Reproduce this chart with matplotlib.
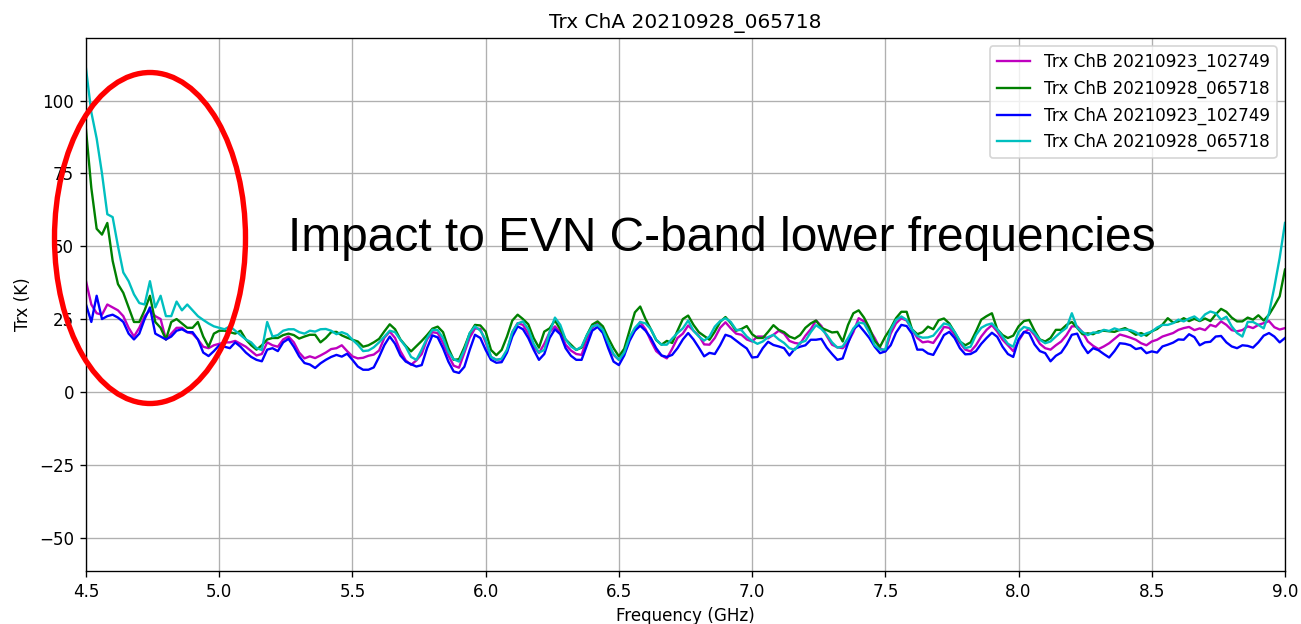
import numpy as np
import matplotlib
matplotlib.use('Agg')
import matplotlib.pyplot as plt
from matplotlib.patches import Ellipse

# frequency grid (GHz), 0.02 GHz steps
freq = np.linspace(4.5, 9.0, 226)

trx_chb_0923 = [
    38, 30, 27, 26.5, 30, 29, 28, 26, 22, 19, 22, 26, 28, 26, 25, 18, 20, 22, 22, 20.5,
    20, 18, 15.5, 15, 16, 16.5, 17, 17, 17.5, 16.5, 15.5, 14, 12.5, 13, 17, 16, 15.5, 18,
    19.0, 17.0, 13.5, 11.5, 12.2, 11.6, 12.5, 13.5, 14.7, 15.0, 16.0, 14.0, 12.2, 11.5, 11.7, 12.4,
    12.8, 14.2, 18.6, 20.7, 18.5, 14.0, 10.8, 9.3, 10.8, 13.0, 18.0, 20.5, 20.2, 16.8, 12.5, 9.0,
    8.3, 13.5, 18.6, 21.8, 21.6, 17,
    12, 11.0, 11.2, 14.0, 20.5, 23.6, 23.0, 20.0, 15.6, 13.3, 16.5, 20.5, 22.5, 20.5, 16.2, 14.2,
    13.0, 12.7, 18.0, 22.0, 23.5, 21.2, 16.0, 12.7, 11.0, 13.6, 18.8, 21.0, 24.0, 21.5, 17.5, 14.0,
    12.5, 11.5, 14.8, 18.5, 20,
    22.8, 21.0, 19.3, 16.3, 16.2, 18.5, 22.0, 23.9, 21.8, 20.0, 19.6, 18.0, 17.3, 19.0, 19.0, 18.4,
    19.6, 21.0, 20.0, 17.5, 16.8, 16.5, 19.3, 21.5, 24.5, 22.6, 19.2, 16.2, 15.3, 15.0, 17.0, 20.5,
    25.3, 24.2, 21.5, 18.5, 15.0, 13.9,
    20.0, 23.5, 25.3, 24.5, 21.5, 18.5, 17.0, 17.3, 16.8, 19.4, 22.3, 22, 19.6, 16.8, 14.5, 13.9,
    16.0, 19.0, 21.3, 22.9, 20.7, 17.9, 16.0, 14.0, 17.5, 20.4, 21.6, 19.5, 16.5, 15.0, 14.5, 16.0,
    17.3, 19.5, 22.5, 22.5, 20.5,
    17.3, 15.8, 14.7, 15.6, 16.7, 18.2, 19.7, 19.2, 18.6, 17.9, 16.7, 16.0, 17.3, 17.9, 19.0, 19.6,
    20.2, 21.3, 21.9, 22.3, 21.2, 21.8, 21.2, 23.0, 22.4, 24.2, 23.0, 21.2, 20.8, 21.2, 22.5, 21.9,
    23.0, 23.6, 24.3, 22.2, 21.4, 21.9,
]

trx_chb_0928 = [
    90, 70, 56, 54, 58, 45, 37, 34, 29, 24, 24, 28, 33, 24, 22, 18, 24, 25, 23.5, 22,
    22, 24, 19, 15.5, 20, 21, 21, 20.5, 20, 21, 18, 16, 14.5, 16, 18, 18.5, 18.5, 19.5,
    20.0, 19.5, 18.3, 19.0, 19.6, 19.6, 17.0, 18.5, 20.5, 20.6, 19.4, 18.6, 17.9, 17.3, 15.5, 16.0,
    17.0, 18.2, 20.8, 23.2, 21.5, 18.0, 15.8, 13.9, 15.7, 17.5, 19.5, 21.7, 22.4, 20.5, 15.0, 11.0,
    11.2, 15.3, 20, 23, 22.8, 20.7,
    14.4, 12.6, 14.4, 19.0, 24.5, 26.5, 25, 23.2, 18.5, 15.2, 20.7, 21.8, 24.5, 21.5, 18, 16.2,
    14.4, 15.2, 19.5, 23.1, 24.2, 22.5, 18.5, 15.0, 12.2, 14.8, 21, 27.3, 29.3, 25, 21.5, 17.8,
    16.2, 17.5, 16.8, 21, 25,
    26.2, 23.0, 20.5, 19.2, 17.9, 20.7, 24.0, 25.7, 23.6, 21.0, 21.6, 22.6, 19.8, 18.5, 18.5, 20.6,
    22.9, 21.3, 20.5, 19.0, 18.3, 19.5, 22.0, 23.5, 24.5, 22, 21.2, 20.4, 20.6, 17.3, 23, 27,
    28, 25.5, 22, 17.5, 15.5, 19,
    21.8, 25.3, 27.5, 27.5, 21.5, 19.8, 20.5, 22.4, 21.5, 24.6, 25.2, 23.5, 20.5, 17.3, 16.0, 17.0,
    20.7, 24.8, 26.0, 27.0, 21.5, 19.5, 18.5, 19.3, 22.5, 24.3, 24.7, 21.0, 18, 17.3, 18.5, 21.3,
    21.3, 23.0, 24.0, 22.0, 19.8,
    20.1, 19.8, 20.8, 21.0, 20.8, 20.6, 21.3, 21.9, 20.8, 19.6, 20.2, 19.3, 20.8, 21.6, 23.1, 25.3,
    23.8, 24.2, 25.3, 24.3, 25.1, 24.3, 25.2, 24.3, 26.6, 28.5, 27.5, 25.5, 24.2, 24.2, 25.5, 24.8,
    26.3, 24.5, 26.5, 29.5, 32.8, 42.0,
]

trx_cha_0923 = [
    30, 24, 33, 25, 26, 26.5, 25.5, 24, 20, 18, 20, 25, 29, 20, 19, 18, 19, 21, 21.5, 20.5,
    20.5, 18, 13.5, 12.3, 14, 16, 15.5, 15, 17, 15.5, 13.5, 12, 11, 10.5, 14.5, 15, 14, 17,
    18.2, 15.5, 12.2, 9.9, 9.4, 8.2, 9.8, 11.0, 12.0, 12.7, 12.1, 13.1, 11.0, 8.7, 7.6, 7.6,
    8.4, 12.0, 16.1, 19.0, 16.5, 12.5, 10.4, 9.5, 8.7, 9.2, 15.0, 19.4, 18.7, 15.0, 10.4, 7.0,
    6.5, 8.6, 14.4, 19.6, 18.5, 14.4,
    11.0, 10.0, 10.2, 13.5, 19.0, 22.5, 21.5, 18.5, 14.5, 11.0, 13.0, 18.5, 21.5, 19.8, 15.0, 12.4,
    11.0, 11.0, 16.0, 21.0, 22.3, 20.2, 15.0, 10.4, 9.2, 12.5, 17.5, 21, 22.7, 21.0, 18.5, 15.0,
    12.5, 12.0, 12.7, 15, 18,
    20.2, 18.0, 15.2, 12.2, 13.4, 13.0, 16.0, 19.6, 19.0, 17.6, 16.2, 14.9, 11.8, 12.0, 15.0, 17.2,
    16.1, 15.6, 15.0, 12.5, 14.8, 15.5, 16, 17.9, 17.9, 18.2, 15.2, 13.0, 11.0, 11.5, 16.7, 21.5,
    23.0, 20.8, 18.5, 15.5, 13.3, 13.9,
    16.0, 20.3, 23.0, 22.6, 20.0, 14.5, 14.5, 13.2, 12.7, 16.0, 19.5, 20.6, 18.5, 15.0, 12.9, 13.0,
    14.0, 16.5, 18.5, 20.3, 18.9, 15.5, 13.0, 12.0, 18.0, 20.6, 20.1, 16.3, 14.0, 13.3, 10.5, 12.4,
    13.5, 16.2, 19.6, 20.0, 16.0,
    13.3, 15.0, 14.3, 13.0, 11.8, 14.0, 16.7, 16.5, 16.0, 14.7, 15.1, 13.3, 13.9, 13.5, 15.6, 16.2,
    16.9, 18.0, 17.9, 19.8, 18.8, 16.0, 17.0, 17.2, 19.0, 19.2, 17.0, 15.6, 15.0, 16.0, 15.8, 15.2,
    17.0, 19.3, 20.2, 19.0, 17.0, 18.5,
]

trx_cha_0928 = [
    111, 96, 87, 75, 61, 60, 50, 41, 38, 33.5, 30.5, 30, 38, 29, 33, 26, 26, 31, 28, 30,
    28, 26, 24.7, 23.5, 22.5, 22, 21.5, 22.5, 21, 19.5, 18, 17, 15, 14.4, 24, 19, 19.5, 21,
    21.5, 21.5, 20.5, 20.0, 21.0, 20.7, 21.5, 21.6, 21, 19.8, 20.5, 19.8, 17.9, 16.2, 14.0, 14.2,
    15.3, 17, 19, 21.0, 20.5, 17.9, 15.5, 12.0, 11.0, 14.5, 18.5, 21.3, 21.2, 18.5, 13.8, 11.2,
    10.4, 14.4, 20.2, 22.5, 21, 18,
    12, 11.0, 11.4, 14.5, 20.5, 23.5, 24.2, 21.5, 16.5, 13.5, 14.4, 20.5, 25.5, 23, 18, 15.6,
    14.4, 15.5, 19.5, 22.5, 23.0, 21.3, 17.0, 13.0, 11.0, 13.5, 18.8, 22, 24.0, 23.5, 21.5, 17.9,
    16.2, 16.2, 18.3, 20.2, 21.8,
    24.5, 21.0, 19.0, 17.6, 19.0, 22.4, 24.3, 25.3, 24.0, 21.3, 21.2, 19.0, 17.5, 16.5, 17.3, 18.8,
    19.6, 18.0, 16.8, 15.0, 14.4, 16.9, 17.5, 20.5, 22.9, 21.6, 19.6, 17.0, 15.2, 15.6, 18.5, 21.8,
    23.8, 23.5, 20.2, 16.0, 14.5, 14.6,
    21.3, 24.7, 25.9, 24.7, 21.5, 19.2, 18.6, 18.7, 19.3, 21.5, 23.5, 23, 20.6, 17.5, 15.0, 15.5,
    19.5, 22.0, 23.0, 23.5, 21.5, 19.0, 16.5, 15.5, 20.6, 22.3, 21.8, 20.2, 17.9, 16.7, 17.3, 19.0,
    20.6, 22, 27, 22, 20.5,
    19.5, 20.4, 20.3, 21.3, 20.9, 21.8, 21.2, 21.4, 21.2, 20.5, 19.2, 20.1, 20.7, 22.1, 23.0, 23.0,
    23.6, 24.8, 24.2, 25.2, 25.9, 24.5, 26.6, 27.6, 27.0, 24.8, 25.8, 22.5, 20.2, 19.0, 24.0, 24.0,
    23.0, 21.8, 27, 36, 46, 58,
]

series = [
    (trx_chb_0923, 'm', 'Trx ChB 20210923_102749'),
    (trx_chb_0928, 'g', 'Trx ChB 20210928_065718'),
    (trx_cha_0923, 'b', 'Trx ChA 20210923_102749'),
    (trx_cha_0928, 'c', 'Trx ChA 20210928_065718'),
]

fig = plt.figure(figsize=(1301 / 121, 624 / 121), dpi=121)
ax = fig.add_axes([86 / 1301, 1 - 571 / 624, (1285 - 86) / 1301, (571 - 38) / 624])

for vals, col, lab in series:
    ax.plot(freq, vals, color=col, label=lab, linewidth=1.4)

ax.set_xlim(4.5, 9.0)
ax.set_ylim(-61.5, 121.5)
ax.set_yticks([-50, -25, 0, 25, 50, 75, 100])
ax.grid(True)
ax.set_title('Trx ChA 20210928_065718')
ax.set_xlabel('Frequency (GHz)')
ax.set_ylabel('Trx (K)')
ax.legend(loc='upper right')

# annotation overlay
fig.text(288 / 1301, 1 - 251 / 624, 'Impact to EVN C-band lower frequencies',
         family='Liberation Sans', fontsize=28.5, color='black',
         ha='left', va='baseline')
fig.add_artist(Ellipse((150 / 1301, 1 - 238 / 624), 191 / 1301, 331 / 624,
                       transform=fig.transFigure, fill=False,
                       edgecolor='red', linewidth=3.2, clip_on=False))

fig.savefig('out.png', dpi=121)
